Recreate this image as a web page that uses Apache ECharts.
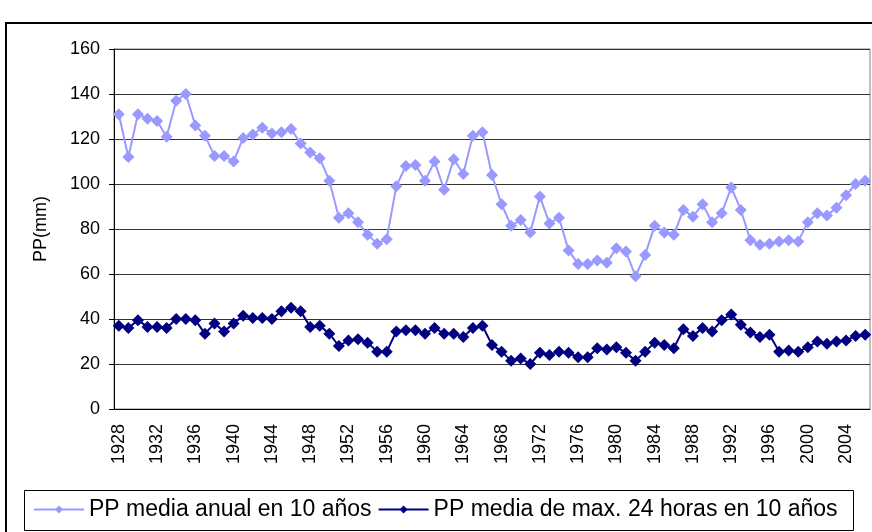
<!DOCTYPE html>
<html lang="es">

<head>
    <meta charset="UTF-8">
    <title>PP media</title>
    <script src="https://cdn.jsdelivr.net/npm/echarts@6/dist/echarts.min.js"></script>
    <style>
        body { margin: 0; background: #fff; }
    </style>
</head>

<body>
    <div id="main" style="width: 872px;height:532px;"></div>
</body>
<script>
    // años
    var years = [
        '1928', '1929', '1930', '1931', '1932', '1933', '1934', '1935', '1936', '1937',
        '1938', '1939', '1940', '1941', '1942', '1943', '1944', '1945', '1946', '1947',
        '1948', '1949', '1950', '1951', '1952', '1953', '1954', '1955', '1956', '1957',
        '1958', '1959', '1960', '1961', '1962', '1963', '1964', '1965', '1966', '1967',
        '1968', '1969', '1970', '1971', '1972', '1973', '1974', '1975', '1976', '1977',
        '1978', '1979', '1980', '1981', '1982', '1983', '1984', '1985', '1986', '1987',
        '1988', '1989', '1990', '1991', '1992', '1993', '1994', '1995', '1996', '1997',
        '1998', '1999', '2000', '2001', '2002', '2003', '2004', '2005', '2006'
    ];

    // PP media anual en 10 años
    var ppAnual = [
        131, 112, 131, 129, 128, 121, 137, 140, 126, 121.5,
        112.5, 112.5, 110, 120.5, 122, 125, 122.5, 123, 124.5, 118,
        114, 111.5, 101.5, 85, 87, 83, 77.5, 73.5, 75.5, 99,
        108, 108.5, 101.5, 110, 97.5, 111, 104.5, 121.5, 123, 104,
        91, 81.5, 84, 78.5, 94.5, 82.5, 85, 70.5, 64.5, 64.5,
        66, 65, 71.5, 70, 59, 68.5, 81.5, 78.5, 77.5, 88.5,
        85.5, 91, 83, 87, 98.5, 88.5, 75, 73, 73.5, 74.5,
        75, 74.5, 83, 87, 86, 89.5, 95, 100, 101.5
    ];

    // PP media de max. 24 horas en 10 años
    var ppMax24 = [
        37, 36, 39.5, 36.5, 36.5, 36, 40, 40, 39.5, 33.5,
        38, 34.5, 38, 41.5, 40.5, 40.5, 40, 43.5, 45, 43.5,
        36.5, 37, 33.5, 28, 30.5, 31, 29.5, 25.5, 25.5, 34.5,
        35, 35, 33.5, 36, 33.5, 33.5, 32, 36, 37, 28.5,
        25.5, 21.5, 22.5, 20, 25, 24, 25.5, 25, 23, 23,
        27, 26.5, 27.5, 25, 21.5, 25.5, 29.5, 28.5, 27, 35.5,
        32.5, 36, 34.5, 39.5, 42, 37.5, 34, 32, 33, 25.5,
        26, 25.5, 27.5, 30, 29, 30, 30.5, 32.5, 33
    ];

    var seriesNames = ['PP media anual en 10 años', 'PP media de max. 24 horas en 10 años'];
    var font = 'Liberation Sans, Arial, sans-serif';

    var myChart = echarts.init(document.getElementById('main'), null, { renderer: 'canvas' });

    var option = {
        animation: false,
        backgroundColor: '#fff',
        textStyle: { fontFamily: font, color: '#000' },
        graphic: [{
            // marco del gráfico
            type: 'rect',
            shape: { x: 6, y: 23, width: 900, height: 560 },
            style: { fill: 'none', stroke: '#000', lineWidth: 2 },
            z: -1
        }, {
            // caja de la leyenda
            type: 'rect',
            shape: { x: 24.5, y: 490.5, width: 829, height: 40 },
            style: { fill: 'none', stroke: '#000', lineWidth: 1 },
            z: -1
        }],
        grid: {
            left: 114,
            right: 2,
            top: 49,
            bottom: 123,
            show: true,
            borderColor: '#808080',
            borderWidth: 1
        },
        legend: {
            left: 33,
            top: 498,
            padding: 0,
            itemGap: 6,
            itemWidth: 50,
            itemHeight: 10,
            textStyle: { fontSize: 23, fontFamily: font, color: '#000' },
            data: seriesNames
        },
        xAxis: {
            type: 'category',
            data: years,
            boundaryGap: true,
            axisLine: { lineStyle: { color: '#000', width: 1 } },
            axisTick: { interval: 0, length: 5, lineStyle: { color: '#000' } },
            axisLabel: {
                interval: 3,
                rotate: 90,
                margin: 15,
                fontSize: 18,
                color: '#000',
                fontFamily: font
            },
            splitLine: { show: false }
        },
        yAxis: {
            type: 'value',
            min: 0,
            max: 160,
            interval: 20,
            name: 'PP(mm)',
            nameLocation: 'middle',
            nameGap: 64,
            nameTextStyle: { fontSize: 18, color: '#000', fontFamily: font },
            axisLine: { show: true, lineStyle: { color: '#000', width: 1 } },
            axisTick: { show: true, length: 5, lineStyle: { color: '#000' } },
            axisLabel: { fontSize: 18, margin: 14, color: '#000', fontFamily: font },
            splitLine: { lineStyle: { color: '#333', width: 1 } }
        },
        series: [{
            name: seriesNames[0],
            type: 'line',
            data: ppAnual,
            symbol: 'diamond',
            symbolSize: 12,
            showSymbol: true,
            showAllSymbol: true,
            color: '#9999FF',
            lineStyle: { width: 2, color: '#9999FF' },
            itemStyle: { color: '#9999FF' }
        }, {
            name: seriesNames[1],
            type: 'line',
            data: ppMax24,
            symbol: 'diamond',
            symbolSize: 12,
            showSymbol: true,
            showAllSymbol: true,
            color: '#000080',
            lineStyle: { width: 2, color: '#000080' },
            itemStyle: { color: '#000080' }
        }]
    };

    myChart.setOption(option);
</script>

</html>
